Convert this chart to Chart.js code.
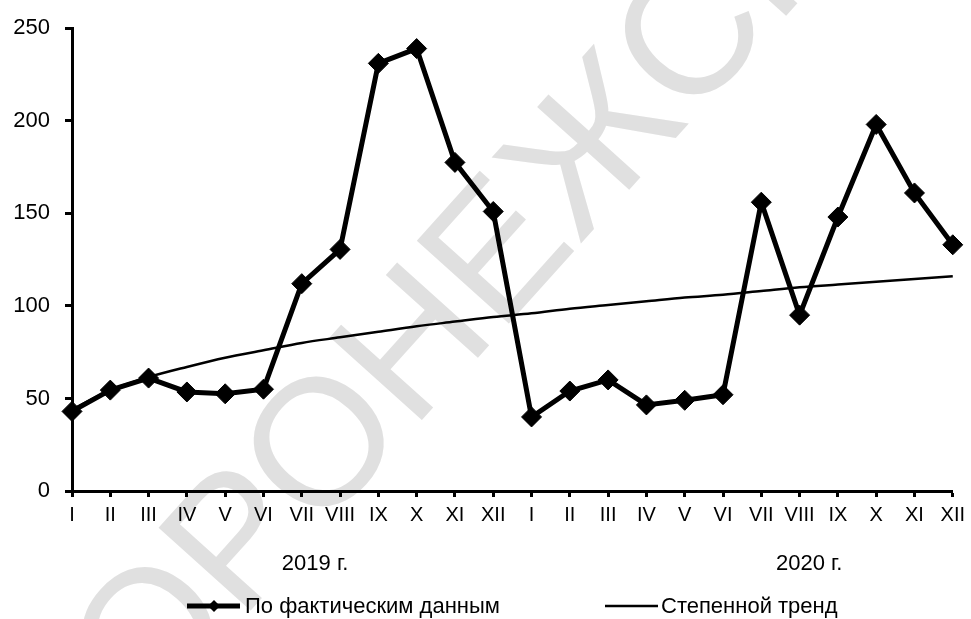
<!DOCTYPE html>
<html>
<head>
<meta charset="utf-8">
<script src="https://cdn.jsdelivr.net/npm/chart.js@4"></script>
<style>
  body { margin: 0; background: #fff; }
  canvas { display: block; }
</style>
</head>
<body>
<canvas id="chart" width="971" height="619"></canvas>
<script>
var months = ['I', 'II', 'III', 'IV', 'V', 'VI', 'VII', 'VIII', 'IX', 'X', 'XI', 'XII'],
    categories = months.concat(months),
    yearLabels = ['2019 г.', '2020 г.'],
    seriesNames = ['По фактическим данным', 'Степенной тренд'],

    // values
    actual = [43, 54.5, 61, 53.5, 52.5, 55, 112, 130.5, 231, 239, 177.5, 151,
              40, 54, 60, 46.5, 49, 52, 156, 95, 148, 198, 161, 133],
    trend = [44, 54.5, 61.5, 67, 72, 76, 80, 83, 86, 89, 91.5, 94,
             96, 98.5, 100.5, 102.5, 104.5, 106, 108, 110, 111.5, 113, 114.5, 116],

    yMin = 0, yMax = 250, yStep = 50,
    watermark = 'ВОРОНЕЖСКИЙ';

var FONT = "'Liberation Sans', Arial, sans-serif";

// light grey watermark behind everything
var backdrop = {
    id: 'backdrop',
    beforeDraw: function(chart){
        var c = chart.ctx;
        c.save();
        c.fillStyle = '#fff';
        c.fillRect(0, 0, chart.width, chart.height);
        c.translate(151, 721);
        c.rotate(-48 * Math.PI / 180);
        c.font = '180px ' + FONT;
        c.fillStyle = '#e0e0e0';
        c.textBaseline = 'alphabetic';
        c.fillText(watermark, -c.measureText(watermark.charAt(0)).width, 0);
        c.restore();
    }
};

// year captions and the legend under the axis
var extras = {
    id: 'extras',
    afterDraw: function(chart){
        var c = chart.ctx, x = chart.scales.x;
        c.save();
        c.fillStyle = '#000';
        c.font = '22px ' + FONT;
        c.textAlign = 'center';
        c.textBaseline = 'middle';
        c.fillText(yearLabels[0], x.getPixelForDecimal(0.276), 564);
        c.fillText(yearLabels[1], x.getPixelForDecimal(0.837), 564);

        var ly = 606;
        c.strokeStyle = '#000';
        c.lineWidth = 5;
        c.beginPath(); c.moveTo(187, ly); c.lineTo(240, ly); c.stroke();
        c.beginPath();
        c.moveTo(214, ly - 6); c.lineTo(220, ly); c.lineTo(214, ly + 6); c.lineTo(208, ly);
        c.closePath(); c.fill();
        c.lineWidth = 2.5;
        c.beginPath(); c.moveTo(605, ly); c.lineTo(658, ly); c.stroke();

        c.textAlign = 'left';
        c.fillText(seriesNames[0], 245, ly + 1);
        c.fillText(seriesNames[1], 661, ly + 1);
        c.restore();
    }
};

new Chart(document.getElementById('chart').getContext('2d'), {
    type: 'line',
    data: {
        labels: categories,
        datasets: [{
            label: seriesNames[1],
            data: trend,
            borderColor: '#000',
            borderWidth: 2.5,
            pointRadius: 0,
            cubicInterpolationMode: 'monotone',
            fill: false
        }, {
            label: seriesNames[0],
            data: actual,
            borderColor: '#000',
            backgroundColor: '#000',
            borderWidth: 5,
            pointStyle: 'rectRot',
            pointRadius: 10,
            pointBorderWidth: 1,
            pointHoverRadius: 10,
            tension: 0,
            fill: false
        }]
    },
    options: {
        responsive: false,
        animation: false,
        events: [],
        layout: { padding: { top: 24, right: 15, left: 0, bottom: 0 } },
        plugins: { legend: { display: false }, tooltip: { enabled: false } },
        scales: {
            x: {
                offset: false,
                grid: { display: true, drawOnChartArea: false, drawTicks: true, tickLength: 6, tickWidth: 3, tickColor: '#000', offset: false },
                border: { display: true, color: '#000', width: 3 },
                ticks: { color: '#000', font: { family: FONT, size: 20 }, padding: 6, maxRotation: 0, autoSkip: false },
                afterFit: function(s){ s.height = 128; }
            },
            y: {
                min: yMin, max: yMax,
                grid: { display: true, drawOnChartArea: false, drawTicks: true, tickLength: 7, tickWidth: 3, tickColor: '#000' },
                border: { display: true, color: '#000', width: 3 },
                ticks: { stepSize: yStep, color: '#000', font: { family: FONT, size: 22 }, padding: 15 },
                afterFit: function(s){ s.width = 72; }
            }
        }
    },
    plugins: [backdrop, extras]
});
</script>
</body>
</html>
